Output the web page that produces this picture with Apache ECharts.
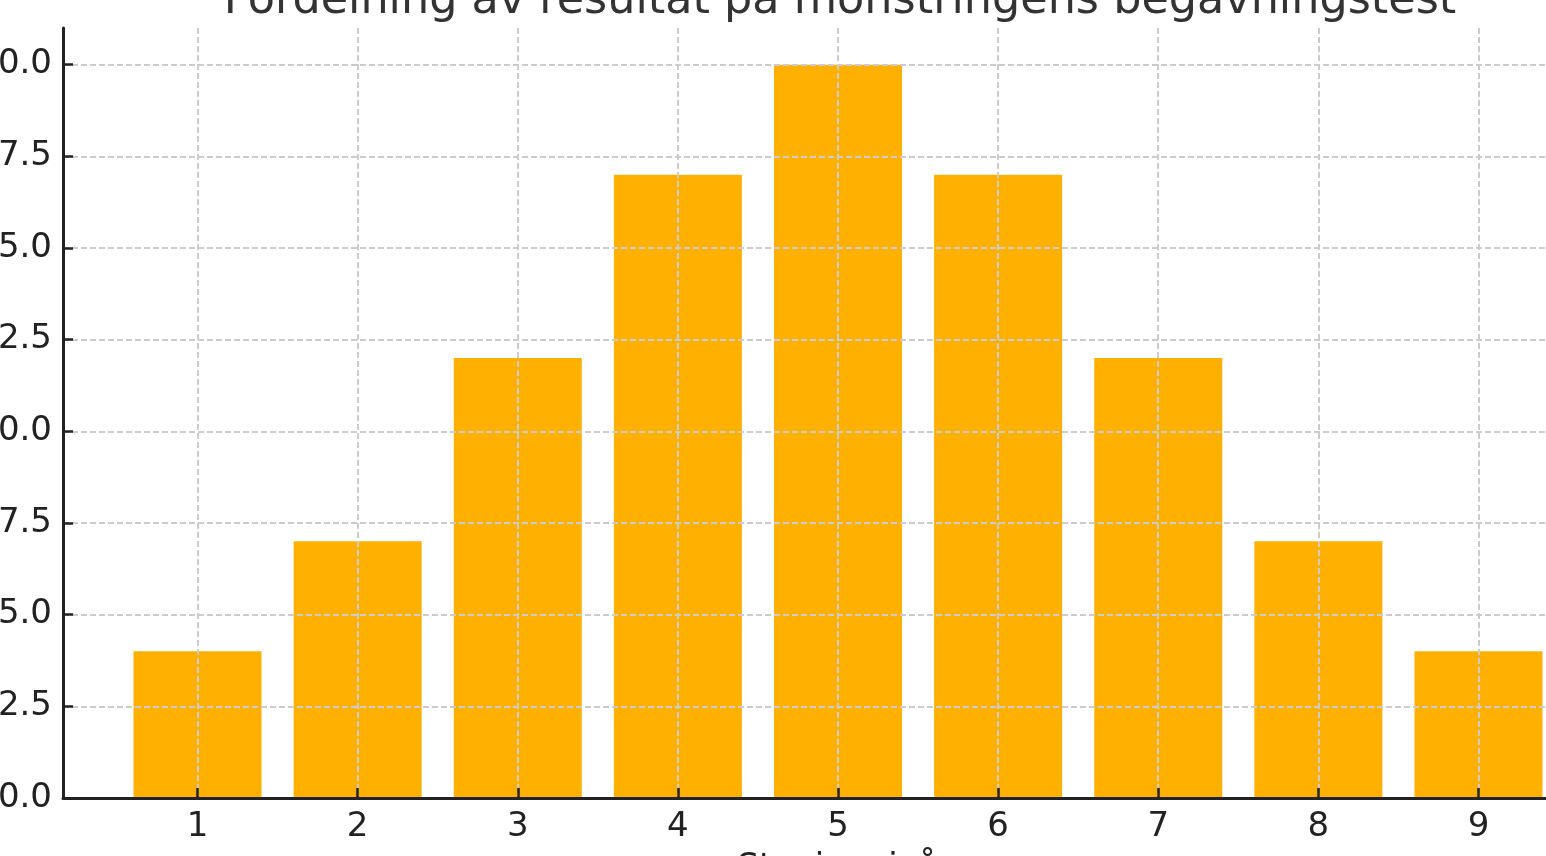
<!DOCTYPE html>
<html>
<head>
<meta charset="utf-8">
<script src="https://cdn.jsdelivr.net/npm/echarts@6/dist/echarts.min.js"></script>
<style>
html,body{margin:0;padding:0;overflow:hidden;background:#fff;width:1546px;height:856px;}
#chart{width:1700px;height:900px;}
</style>
</head>
<body>
<div id="chart"></div>
<script>
const titleText = 'Fordelning av resultat på mönstringens begavningstest';
const xLabel = 'Staninenivå';
const categories = [1, 2, 3, 4, 5, 6, 7, 8, 9];
const counts = [4, 7, 12, 17, 20, 17, 12, 7, 4];
const yTicks = [0, 2.5, 5, 7.5, 10, 12.5, 15, 17.5, 20];

const chart = echarts.init(document.getElementById('chart'), null, {renderer: 'canvas'});
const font = 'DejaVu Sans';
const gridLine = {show: true, lineStyle: {color: '#cccccc', width: 2, type: [6, 3]}};
chart.setOption({
  animation: false,
  backgroundColor: '#ffffff',
  title: [{
    text: titleText,
    left: 835, textAlign: 'center',
    top: -26,
    textStyle: {fontFamily: font, fontSize: 44.5, fontWeight: 'normal', color: '#333333'}
  }, {
    text: xLabel,
    left: 838, textAlign: 'center',
    top: 851, padding: 0,
    textStyle: {fontFamily: font, fontSize: 34, fontWeight: 'normal', color: '#222222'}
  }],
  grid: {left: 63, top: 28, width: 1550, height: 770, containLabel: false, outerBoundsMode: 'none'},
  xAxis: {
    type: 'value', min: 0.16, max: 9.84, z: 3,
    axisLine: {show: true, onZero: false, lineStyle: {color: '#222222', width: 3}},
    axisTick: {show: true, inside: true, length: 10, customValues: categories, lineStyle: {color: '#222222', width: 2.5}},
    axisLabel: {customValues: categories, margin: 12, fontFamily: font, fontSize: 34, color: '#222222'},
    splitLine: gridLine
  },
  yAxis: {
    type: 'value', min: 0, max: 21, z: 3,
    axisLine: {show: true, onZero: false, lineStyle: {color: '#222222', width: 3}},
    axisTick: {show: true, inside: true, length: 10, customValues: yTicks, lineStyle: {color: '#222222', width: 2.5}},
    axisLabel: {customValues: yTicks, margin: 11, fontFamily: font, fontSize: 34, color: '#222222',
      formatter: v => Number(v).toFixed(1)},
    splitLine: gridLine
  },
  series: [{
    type: 'bar',
    data: categories.map((c, i) => [c, counts[i]]),
    barWidth: 128,
    itemStyle: {color: '#FFB000'},
    z: 2
  }]
});
</script>
</body>
</html>
